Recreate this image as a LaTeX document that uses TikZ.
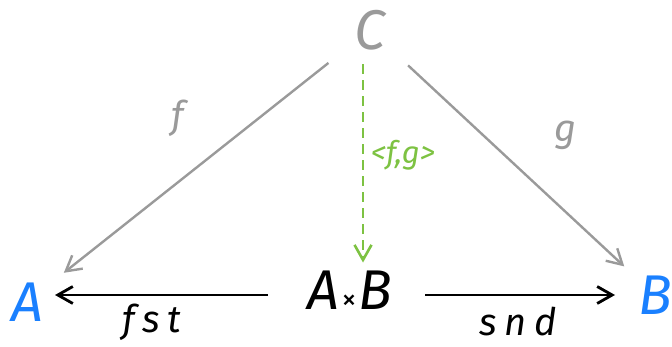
\documentclass[tikz,border=0pt]{standalone}
\usepackage{fontspec}
\setmainfont{Fira Sans}
\usetikzlibrary{arrows.meta}
\definecolor{graypen}{HTML}{9A9A9A}
\definecolor{bluepen}{HTML}{1A80FF}
\definecolor{greenpen}{HTML}{7DC242}
\begin{document}
\begin{tikzpicture}[x=1pt, y=-1pt, >={Straight Barb[length=15pt,width=17pt]},
  obj/.style={inner sep=0pt, font=\fontsize{56}{56}\selectfont\itshape},
  lbl/.style={inner sep=0pt, font=\fontsize{38}{38}\selectfont\itshape\addfontfeature{LetterSpace=20}}]
\useasboundingbox (0,0) rectangle (672,347);
% objects
\node[obj, text=graypen] (C) at (370,30) {C};
\node[obj, text=bluepen] (A) at (27,302) {A};
\node[obj] (AB) at (350,290) {A\kern2pt{\fontsize{30}{30}\selectfont\upshape×}\kern2pt B};
\node[obj, text=bluepen] (B) at (655,295) {B};
% arrow ends
\coordinate (ABw) at (268,295);
\coordinate (ABe) at (425,295);
\coordinate (Ae) at (55,295);
\coordinate (Bw) at (615,295);
% morphisms
\draw[->, graypen, line width=2.4pt, shorten <=53pt, shorten >=47pt] (C.center) -- (A.center);
\draw[->, graypen, line width=2.4pt, shorten <=52pt, shorten >=42pt] (C.center) -- (B.center);
\draw[->, greenpen, line width=2.6pt, dash pattern=on 10pt off 6pt, shorten <=14pt, shorten >=8pt] ([xshift=-7pt]C.south) -- ([xshift=-7pt]C.south |- AB.north);
\draw[->, line width=2.8pt] (ABw) -- (Ae);
\draw[->, line width=2.8pt] (ABe) -- (Bw);
% labels
\node[lbl, text=graypen] (f) at (178,118) {f};
\node[lbl, text=graypen] (g) at (566,135) {g};
\node[lbl, text=greenpen, font=\fontsize{31}{31}\selectfont\itshape] (fg) at (403,155) {<f,g>};
\node[lbl] (fst) at (152,322) {fst};
\node[lbl] (snd) at (518,322) {snd};
\end{tikzpicture}
\end{document}
